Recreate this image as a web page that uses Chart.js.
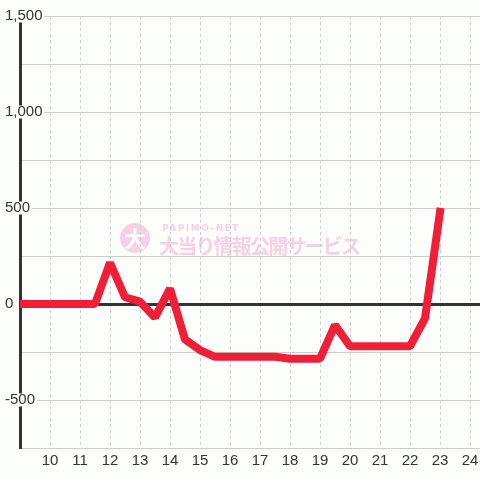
<!DOCTYPE html>
<html>
<head>
<meta charset="utf-8">
<script src="https://cdn.jsdelivr.net/npm/chart.js@4"></script>
<style>
html,body{margin:0;padding:0;background:#fcfefc;}
#wrap{width:480px;height:480px;}
</style>
</head>
<body>
<div id="wrap"><canvas id="c" width="480" height="480"></canvas></div>
<script>
// Hours (x) and balance values (y)
const hours = [9, 9.5, 10, 10.5, 11, 11.5, 12, 12.5, 13, 13.5, 14, 14.5, 15, 15.5, 16, 16.5, 17, 17.5, 18, 18.5, 19, 19.5, 20, 20.5, 21, 21.5, 22, 22.5, 23];
const values = [0, 0, 0, 0, 0, 0, 215, 35, 12, -70, 80, -185, -240, -275, -275, -275, -275, -275, -285, -285, -285, -110, -220, -220, -220, -220, -220, -75, 480];
const xTickLabels = [10, 11, 12, 13, 14, 15, 16, 17, 18, 19, 20, 21, 22, 23, 24];
const yLabelValues = [1500, 1000, 500, 0, -500];

const BG = '#fcfefc';
const FONT = "'Liberation Sans', Arial, sans-serif";

const bgPlugin = {
  id: 'bgWatermark',
  beforeDraw(chart) {
    const ctx = chart.ctx;
    ctx.save();
    ctx.fillStyle = BG;
    ctx.fillRect(0, 0, chart.width, chart.height);
    // watermark
    const pink = '#f9cfe4';
    ctx.fillStyle = pink;
    ctx.beginPath();
    ctx.arc(135, 238, 15, 0, Math.PI * 2);
    ctx.fill();
    ctx.fillStyle = '#ffffff';
    ctx.font = "bold 22px 'Noto Sans CJK JP'";
    ctx.textAlign = 'center';
    ctx.textBaseline = 'middle';
    ctx.fillText('大', 135, 239);
    ctx.fillStyle = pink;
    ctx.textAlign = 'left';
    ctx.textBaseline = 'alphabetic';
    ctx.font = "bold 9px 'DejaVu Sans'";
    try { ctx.letterSpacing = '1.5px'; } catch (e) {}
    ctx.fillText('PAPIMO-NET', 162, 231);
    ctx.font = "bold 20px 'Noto Sans CJK JP'";
    try { ctx.letterSpacing = '-1.8px'; } catch (e) {}
    ctx.fillText('大当り情報公開サービス', 159, 254);
    ctx.restore();
  }
};

const data = hours.map((h, i) => ({ x: h, y: values[i] }));

new Chart(document.getElementById('c'), {
  type: 'line',
  data: {
    datasets: [{
      data: data,
      borderColor: '#ee1f37',
      borderWidth: 8,
      pointRadius: 0,
      tension: 0,
      fill: false,
      borderCapStyle: 'square',
      borderJoinStyle: 'bevel'
    }]
  },
  options: {
    responsive: false,
    animation: false,
    layout: { padding: { top: 16, bottom: 0, left: 0, right: 0 } },
    plugins: { legend: { display: false }, tooltip: { enabled: false } },
    scales: {
      x: {
        type: 'linear',
        min: 9,
        max: 24.333,
        afterFit: (s) => { s.height = 32; s.paddingLeft = 0; s.paddingRight = 0; },
        grid: { color: '#cccccc', lineWidth: 1, drawTicks: false },
        border: { color: '#cccccc', width: 1, dash: [3, 3] },
        ticks: {
          stepSize: 1,
          includeBounds: false,
          autoSkip: false,
          maxRotation: 0,
          padding: 4,
          color: '#333333',
          font: { family: FONT, size: 15 },
          callback: (v) => xTickLabels.includes(v) ? String(v) : ''
        }
      },
      y: {
        min: -750,
        max: 1500,
        afterFit: (s) => { s.width = 20; },
        grid: {
          drawTicks: false,
          color: (c) => c.tick && c.tick.value === 0 ? '#333333' : '#cccccc',
          lineWidth: (c) => c.tick && c.tick.value === 0 ? 3 : 1
        },
        border: { color: '#333333', width: 3 },
        ticks: {
          stepSize: 250,
          mirror: true,
          padding: -15,
          crossAlign: 'near',
          color: '#333333',
          font: { family: FONT, size: 15, lineHeight: 1 },
          showLabelBackdrop: (c) => c.tick && yLabelValues.includes(c.tick.value),
          backdropColor: BG,
          backdropPadding: { top: -1, bottom: -1, left: 1, right: 2 },
          callback: (v) => yLabelValues.includes(v) ? v.toLocaleString('en-US') : ''
        }
      }
    }
  },
  plugins: [bgPlugin]
});
</script>
</body>
</html>
